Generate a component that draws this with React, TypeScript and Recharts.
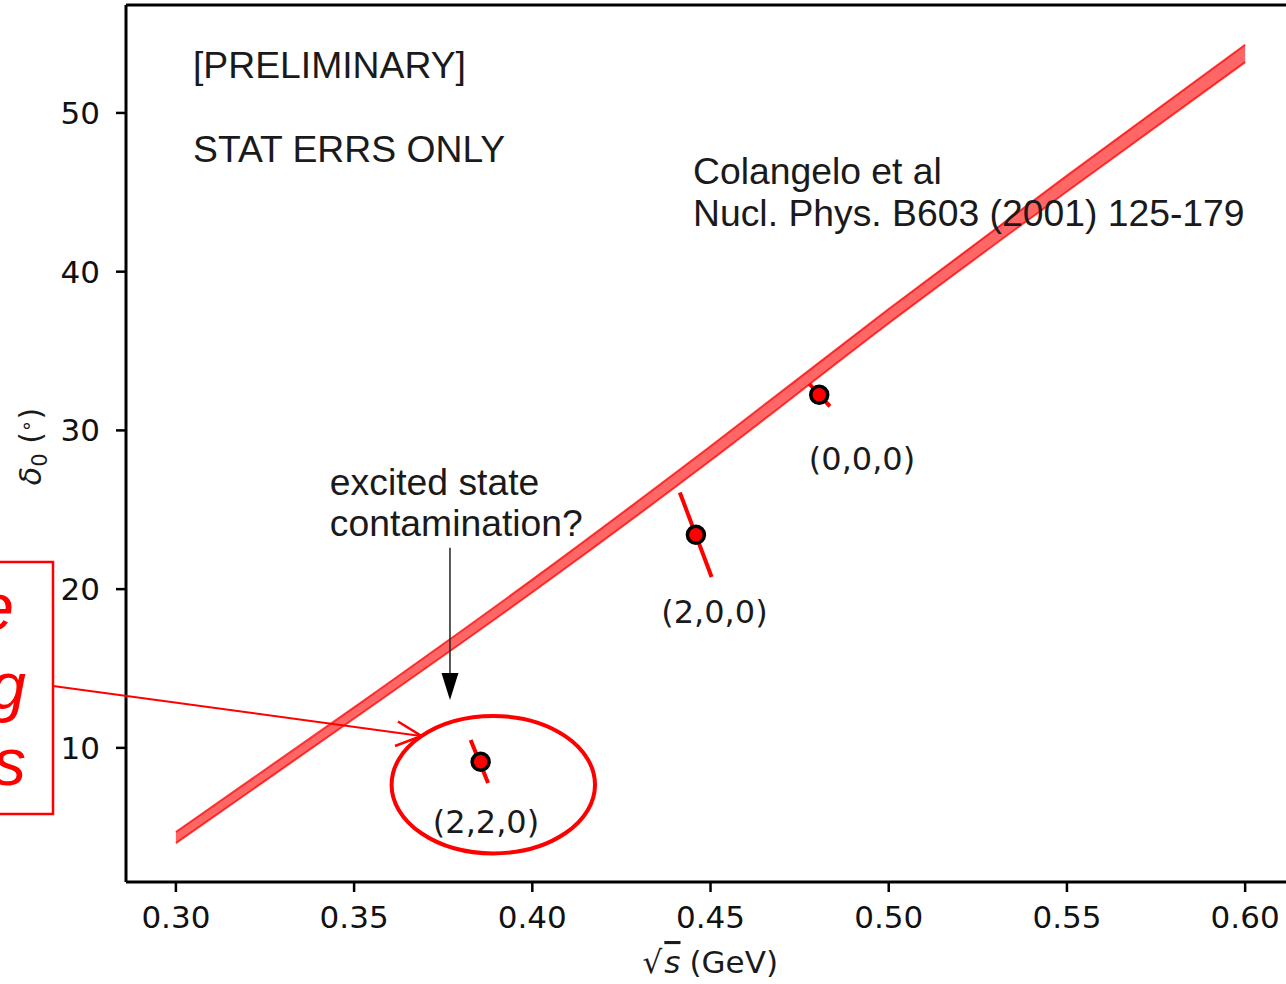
import React from 'react';
import { ComposedChart, Area, Scatter, XAxis, YAxis, ReferenceLine, ReferenceDot } from 'recharts';

// Colangelo et al. band: sqrt(s) in GeV, delta_0 lower / upper edge in degrees
const bandX = [0.30, 0.35, 0.40, 0.45, 0.50, 0.55, 0.60];
const bandLow = [4.0, 11.85, 19.8, 28.1, 36.75, 45.05, 53.2];
const bandHigh = [4.7, 12.55, 20.6, 29.0, 37.65, 46.05, 54.3];

// lattice results per momentum frame
const frameLabels = ['(2,2,0)', '(2,0,0)', '(0,0,0)'];
const pointX = [0.3855, 0.4459, 0.4805];
const pointY = [9.13, 23.42, 32.24];
// correlated error bars, drawn as tilted segments
const errStartX = [0.3827, 0.4414, 0.4777];
const errStartY = [10.5, 26.09, 32.94];
const errEndX = [0.3876, 0.4503, 0.4835];
const errEndY = [7.78, 20.76, 31.51];
// where the frame labels sit (centre x, baseline y)
const labelX = [0.387, 0.4511, 0.4925];
const labelY = [4.64, 17.88, 27.52];

const xTicks = [0.3, 0.35, 0.4, 0.45, 0.5, 0.55, 0.6];
const yTicks = [10, 20, 30, 40, 50];
const xDomain = [0.286, 0.615];
const yDomain = [1.55, 56.8];

const RED = '#ff0000';
const MONO = '"DejaVu Sans", sans-serif';
const SANS = '"Liberation Sans", Arial, sans-serif';

const bandData = bandX.map((x, i) => ({ x, band: [bandLow[i], bandHigh[i]] }));
const points = pointX.map((x, i) => ({ x, y: pointY[i] }));
const errSegments = errStartX.map((x, i) => [
  { x, y: errStartY[i] },
  { x: errEndX[i], y: errEndY[i] },
]);

const note = (lines: string[], anchor: 'start' | 'middle', size: number, font: string, lineGap = 0) =>
  (p: any) => (
    <text x={p.cx} y={p.cy} textAnchor={anchor} fontFamily={font} fontSize={size} fill="#1a1a1a">
      {lines.map((t, i) => (
        <tspan key={i} x={p.cx} dy={i === 0 ? 0 : lineGap}>{t}</tspan>
      ))}
    </text>
  );

const Marker = (p: any) => (
  <circle cx={p.cx} cy={p.cy} r={8.5} fill={RED} stroke="#000" strokeWidth={3.5} />
);

const DownArrow = (p: any) => (
  <g>
    <line x1={p.x1} y1={p.y1} x2={p.x2} y2={p.y2 - 26} stroke="#222" strokeWidth={1.5} />
    <polygon points={`${p.x2 - 8.5},${p.y2 - 27} ${p.x2 + 8.5},${p.y2 - 27} ${p.x2},${p.y2}`} fill="#000" />
  </g>
);

const XLabel = (p: any) => {
  const vb = p.viewBox;
  return (
    <text x={vb.x + vb.width / 2 - 2} y={973} textAnchor="middle" fontFamily={MONO} fontSize={31} fill="#1a1a1a">
      √<tspan dx={2} fontStyle="italic" textDecoration="overline">s</tspan>
      <tspan dx={9}>(GeV)</tspan>
    </text>
  );
};

const YLabel = (p: any) => {
  const vb = p.viewBox;
  const cx = 41;
  const cy = vb.y + vb.height / 2 + 3;
  return (
    <text x={cx} y={cy} transform={`rotate(-90, ${cx}, ${cy})`} textAnchor="middle" fontFamily={MONO} fontSize={30} fill="#1a1a1a">
      <tspan fontStyle="italic">δ</tspan>
      <tspan fontSize={21} dy={6}>0</tspan>
      <tspan dy={-6}> (</tspan>
      <tspan fontSize={20} dy={-8}>∘</tspan>
      <tspan dy={8}>)</tspan>
    </text>
  );
};

export default function App() {
  return (
    <div style={{ position: 'absolute', left: 0, top: 0, width: 1286, height: 984, overflow: 'hidden', background: '#fff' }}>
      <ComposedChart
        width={1320}
        height={984}
        data={bandData}
        margin={{ top: 5, right: 21.4, bottom: 0, left: 0 }}
      >
        <XAxis
          type="number"
          dataKey="x"
          domain={xDomain}
          ticks={xTicks}
          allowDataOverflow
          tickFormatter={(v: number) => v.toFixed(2)}
          height={102}
          tickSize={10}
          tickMargin={14}
          axisLine={{ stroke: '#000', strokeWidth: 3 }}
          tickLine={{ stroke: '#000', strokeWidth: 2.5 }}
          tick={{ fill: '#111', fontSize: 31, fontFamily: MONO }}
          label={{ content: XLabel }}
        />
        <YAxis
          type="number"
          dataKey="y"
          domain={yDomain}
          ticks={yTicks}
          allowDataOverflow
          width={126}
          tickSize={10}
          tickMargin={16}
          axisLine={{ stroke: '#000', strokeWidth: 3 }}
          tickLine={{ stroke: '#000', strokeWidth: 2.5 }}
          tick={{ fill: '#111', fontSize: 31, fontFamily: MONO }}
          label={{ content: YLabel }}
        />
        <ReferenceLine y={yDomain[1]} stroke="#000" strokeWidth={3} ifOverflow="visible" />

        <Area
          type="monotone"
          dataKey="band"
          stroke={RED}
          strokeOpacity={0.75}
          strokeWidth={2}
          fill={RED}
          fillOpacity={0.6}
          isAnimationActive={false}
        />

        {errSegments.map((seg, i) => (
          <Scatter
            key={`err-${i}`}
            data={seg}
            dataKey="y"
            line={{ stroke: RED, strokeWidth: 4 }}
            shape={() => <g />}
            isAnimationActive={false}
          />
        ))}
        <Scatter data={points} dataKey="y" shape={Marker} isAnimationActive={false} />

        {frameLabels.map((t, i) => (
          <ReferenceDot key={t} x={labelX[i]} y={labelY[i]} r={0} shape={note([t], 'middle', 32, MONO)} />
        ))}

        <ReferenceDot x={0.3048} y={52.19} r={0} shape={note(['[PRELIMINARY]'], 'start', 37.3, SANS)} />
        <ReferenceDot x={0.3048} y={46.92} r={0} shape={note(['STAT ERRS ONLY'], 'start', 37.3, SANS)} />
        <ReferenceDot
          x={0.4451}
          y={45.54}
          r={0}
          shape={note(['Colangelo et al', 'Nucl. Phys. B603 (2001) 125-179'], 'start', 37.3, SANS, 42)}
        />
        <ReferenceDot
          x={0.3432}
          y={25.94}
          r={0}
          shape={note(['excited state', 'contamination?'], 'start', 37.3, SANS, 41)}
        />
        <ReferenceLine
          segment={[{ x: 0.3769, y: 22.6 }, { x: 0.3769, y: 13.02 }]}
          shape={DownArrow}
        />
      </ComposedChart>

      {/* slide callout around the (2,2,0) point */}
      <svg width={1286} height={984} style={{ position: 'absolute', left: 0, top: 0, pointerEvents: 'none' }}>
        <rect x={-10} y={562} width={63} height={252} fill="none" stroke={RED} strokeWidth={2.5} />
        <text fontFamily={SANS} fontStyle="italic" fontSize={66} fill={RED} textAnchor="end">
          <tspan x={14} y={630}>e</tspan>
          <tspan x={26} y={709}>g</tspan>
          <tspan x={26} y={785}>s</tspan>
        </text>
        <line x1={53} y1={686} x2={421} y2={736} stroke={RED} strokeWidth={2} />
        <polyline points="398,721.5 421.5,736 395,746" fill="none" stroke={RED} strokeWidth={2.5} />
        <ellipse cx={493.3} cy={784.7} rx={101.7} ry={68.7} fill="none" stroke={RED} strokeWidth={4} />
      </svg>
    </div>
  );
}
